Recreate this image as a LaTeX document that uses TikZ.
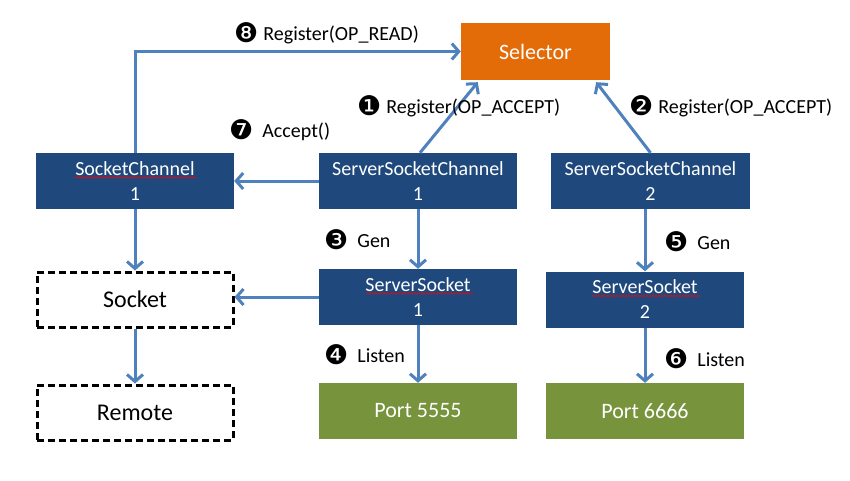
\documentclass[tikz,border=0pt]{standalone}
\usepackage{fontspec}
\setmainfont{Carlito}
\newfontfamily\dvfont{DejaVu Sans}
\usetikzlibrary{arrows.meta,calc,decorations.pathmorphing}
\definecolor{boxblue}{HTML}{1F497D}
\definecolor{selorange}{HTML}{E36C09}
\definecolor{portgreen}{HTML}{77933C}
\definecolor{arrowblue}{HTML}{4F81BD}
\tikzset{
  bluebox/.style={fill=boxblue,text=white,minimum width=198pt,minimum height=56pt,inner sep=0pt,align=center,font=\fontsize{20}{25}\selectfont},
  greenbox/.style={fill=portgreen,text=white,minimum width=198pt,minimum height=56pt,inner sep=0pt,font=\fontsize{22}{26}\selectfont},
  dashbox/.style={draw=black,line width=3pt,dash pattern=on 7pt off 4pt,minimum width=196pt,minimum height=55pt,inner sep=0pt,font=\fontsize{24}{28}\selectfont},
  conn/.style={draw=arrowblue,line width=3pt,-{Straight Barb[length=7pt,width=16pt,line width=3pt]}},
  lbl/.style={anchor=west,inner sep=0pt,font=\fontsize{20}{24}\selectfont},
  squiggle/.style={draw=red,line width=0.6pt,decorate,decoration={snake,amplitude=0.7pt,segment length=3pt}},
}
\newcommand{\cn}[1]{\raisebox{-2pt}{\dvfont\fontsize{27}{30}\selectfont #1}\hspace{5pt}}
\begin{document}
\begin{tikzpicture}[x=1pt,y=-1pt]
\useasboundingbox (0,0) rectangle (850,481);
\node[fill=selorange,text=white,minimum width=149pt,minimum height=57pt,inner sep=0pt,font=\fontsize{22}{26}\selectfont] (sel) at (535.5,51.5) {Selector};
\node[bluebox] (sc1) at (135,181) {SocketChannel\\1};
\node[bluebox] (ssc1) at (418,181) {ServerSocketChannel\\1};
\node[bluebox,minimum width=199pt] (ssc2) at (650.5,181) {ServerSocketChannel\\2};
\node[dashbox] (sock) at (135,299.5) {Socket};
\node[bluebox] (ss1) at (418,297) {ServerSocket\\1};
\node[bluebox] (ss2) at (645,299.5) {ServerSocket\\2};
\node[dashbox] (rem) at (135,412.5) {Remote};
\node[greenbox] (p1) at (418,411) {Port 5555};
\node[greenbox] (p2) at (645,411) {Port 6666};

\draw[squiggle] (75,177.5) -- (196,177.5);
\draw[squiggle] (366,293.5) -- (473,293.5);
\draw[squiggle] (592,296) -- (700,296);

\draw[conn] (sc1.north) |- (sel.west);
\draw[conn] ($(ssc1.north)+(2,0)$) -- ($(sel.south west)+(17,2)$);
\draw[conn] ($(ssc2.north)+(0,0)$) -- ($(sel.south east)+(-14,2)$);
\draw[conn] (ssc1.west) -- (sc1.east);
\draw[conn] (sc1.south) -- (sock.north);
\draw[conn] (ss1.west) -- (ss1.west -| sock.east);
\draw[conn] (sock.south) -- (rem.north);
\draw[conn] (ssc1.south) -- (ss1.north);
\draw[conn] ($(ssc2.south)+(-5.5,0)$) -- (ss2.north);
\draw[conn] (ss1.south) -- (p1.north);
\draw[conn] (ss2.south) -- (p2.north);

\node[lbl] (l8) at (234,33) {\cn{❽}Register(OP\_READ)};
\node[lbl] (l1) at (357,106) {\cn{❶}Register(OP\_ACCEPT)};
\node[lbl] (l2) at (629,106) {\cn{❷}Register(OP\_ACCEPT)};
\node[lbl] (l7) at (229,130) {\cn{❼}\hspace{4pt}Accept()};
\node[lbl] (l3) at (324,240) {\cn{❸}\hspace{4pt}Gen};
\node[lbl] (l5) at (664,242) {\cn{❺}\hspace{4pt}Gen};
\node[lbl] (l4) at (324,355) {\cn{❹}\hspace{4pt}Listen};
\node[lbl] (l6) at (664,359) {\cn{❻}\hspace{4pt}Listen};
\end{tikzpicture}
\end{document}
